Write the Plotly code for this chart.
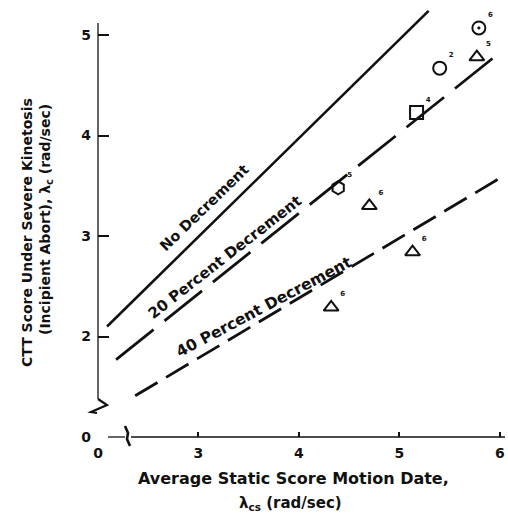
import plotly.graph_objects as go

# ---- data (display axis units: x tick "0" sits at 2, y tick "0" sits at 1, broken axes) ----
x_tickvals = [2, 3, 4, 5, 6]
x_ticktext = ["0", "3", "4", "5", "6"]
y_tickvals = [1, 2, 3, 4, 5]
y_ticktext = ["0", "2", "3", "4", "5"]

no_dec_x = [2.09, 5.29]
no_dec_y = [2.10, 5.24]
pct20_x = [2.18, 6.03]
pct20_y = [1.77, 4.85]
pct40_x = [2.37, 6.04]
pct40_y = [1.41, 3.60]

pt_x = [5.79, 5.40, 5.77, 5.17, 4.39, 4.70, 5.13, 4.32]
pt_y = [5.07, 4.67, 4.78, 4.23, 3.48, 3.30, 2.84, 2.29]
pt_symbol = ["circle-open-dot", "circle-open", "triangle-up-open", "square-open",
             "hexagon-open", "triangle-up-open", "triangle-up-open", "triangle-up-open"]
pt_label = ["6", "2", "5", "4", "5", "6", "6", "6"]

W, H = 508, 518
ML, MR, MT, MB = 98, 3, 0, 81
XR = [2.0, 6.05]
YR = [1.0, 1.0 + (H - MT - MB) / 100.5]

def pxp(p):
    return (p - ML) / (W - ML - MR)

def pyp(p):
    return (H - MB - p) / (H - MT - MB)

INK = "#111111"
FONT = "DejaVu Sans"

fig = go.Figure()
fig.add_trace(go.Scatter(x=no_dec_x, y=no_dec_y, mode="lines",
                         line=dict(color=INK, width=2.6), showlegend=False))
fig.add_trace(go.Scatter(x=pct20_x, y=pct20_y, mode="lines",
                         line=dict(color=INK, width=2.8, dash="48px,14px"), showlegend=False))
fig.add_trace(go.Scatter(x=pct40_x, y=pct40_y, mode="lines",
                         line=dict(color=INK, width=2.8, dash="26px,10px"), showlegend=False))
fig.add_trace(go.Scatter(x=pt_x, y=pt_y, mode="markers+text",
                         marker=dict(symbol=pt_symbol, size=13, color=INK,
                                     line=dict(color=INK, width=2)),
                         text=pt_label, textposition="top right",
                         textfont=dict(family=FONT, size=7, color=INK, weight="bold"),
                         showlegend=False, cliponaxis=False))

# axis lines with breaks (decoration)
def seg(a, b):
    return dict(type="line", xref="paper", yref="paper", x0=pxp(a[0]), y0=pyp(a[1]),
                x1=pxp(b[0]), y1=pyp(b[1]), line=dict(color=INK, width=1.3))

shapes = [seg((98, 23), (98, 399)), seg((108, 437), (125, 437)), seg((131, 437), (505, 437))]

def poly(pts, w):
    path = "M " + " L ".join(f"{pxp(a)},{pyp(b)}" for a, b in pts)
    return dict(type="path", xref="paper", yref="paper", path=path, line=dict(color=INK, width=w))

shapes.append(poly([(98, 399), (107, 405), (91, 412), (97, 413)], 2.2))
shapes.append(poly([(125, 426), (128, 433), (127, 439), (130, 446)], 2.6))

def ann(px, py, text, angle=0, size=13):
    return dict(x=pxp(px), y=pyp(py), xref="paper", yref="paper", text=text, showarrow=False,
                textangle=angle, xanchor="center", yanchor="middle",
                font=dict(family=FONT, size=size, color=INK, weight="bold"))

annotations = [
    ann(204, 208, "No Decrement", -44, 14.5),
    ann(225, 257, "20 Percent Decrement", -38, 15),
    ann(264, 307, "40 Percent Decrement", -28, 15.5),
    ann(27, 233, "CTT Score Under Severe Kinetosis", -90, 14),
    ann(46, 220, "(Incipient Abort), λ<sub>c</sub> (rad/sec)", -90, 14),
    ann(293, 479, "Average Static Score Motion Date,", 0, 16),
    ann(290, 503, "λ<sub>cs</sub> (rad/sec)", 0, 15),
]

fig.update_layout(
    width=W, height=H,
    margin=dict(l=ML, r=MR, t=MT, b=MB, autoexpand=False),
    paper_bgcolor="white", plot_bgcolor="white",
    shapes=shapes, annotations=annotations,
    xaxis=dict(range=XR, tickvals=x_tickvals, ticktext=x_ticktext, showgrid=False,
               zeroline=False, showline=False, ticks="inside", ticklen=5, tickwidth=1.5,
               tickcolor=INK, ticklabelstandoff=6, automargin=False,
               tickfont=dict(family=FONT, size=14, color=INK, weight="bold")),
    yaxis=dict(range=YR, tickvals=y_tickvals, ticktext=y_ticktext, showgrid=False,
               zeroline=False, showline=False, ticks="inside", ticklen=11, tickwidth=1.5,
               tickcolor=INK, ticklabelstandoff=6, automargin=False,
               tickfont=dict(family=FONT, size=14, color=INK, weight="bold")),
)

fig.write_html("out.html", config={"displayModeBar": False},
               post_script="document.body.style.margin='0';")
